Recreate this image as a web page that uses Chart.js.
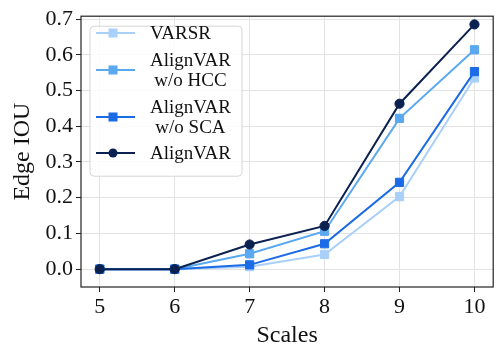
<!DOCTYPE html>
<html>
<head>
<meta charset="utf-8">
<script src="https://cdn.jsdelivr.net/npm/chart.js@4.4.1/dist/chart.umd.min.js"></script>
<style>
  html, body { margin: 0; padding: 0; background: #fff; }
  #wrap { width: 500px; height: 350px; position: relative; }
</style>
</head>
<body>
<div id="wrap"><canvas id="myChart" width="500" height="350"></canvas></div>
<script>
// DATA
const scales = [5, 6, 7, 8, 9, 10];
const yTicks = [0.0, 0.1, 0.2, 0.3, 0.4, 0.5, 0.6, 0.7];

const varsr = [0, 0, 0.007, 0.041, 0.203, 0.535];
const woHCC = [0, 0, 0.043, 0.106, 0.422, 0.614];
const woSCA = [0, 0, 0.012, 0.071, 0.243, 0.553];
const alignVAR = [0, 0, 0.069, 0.121, 0.463, 0.685];

const labels = [["VARSR"], ["AlignVAR", "w/o HCC"], ["AlignVAR", "w/o SCA"], ["AlignVAR"]];
const colors = ["#a9d0f9", "#5aa8f0", "#1c6be6", "#0b2150"];
const markers = ["rect", "rect", "rect", "circle"];

const FONT = "'Liberation Serif', 'Times New Roman', serif";

function toPoints(arr) {
  return arr.map(function (v, i) {
    return { x: scales[i], y: v };
  });
}

// frame + legend drawn inside plot
const framePlugin = {
  id: "frame",
  afterDraw: function (chart) {
    const ctx = chart.ctx;
    const a = chart.chartArea;
    ctx.save();
    ctx.strokeStyle = "#222";
    ctx.lineWidth = 1.2;
    ctx.strokeRect(a.left, a.top, a.right - a.left, a.bottom - a.top);

    // legend box
    const bx = a.left + 9, by = a.top + 10, bw = 152, bh = 150;
    ctx.fillStyle = "rgba(255,255,255,0.85)";
    ctx.strokeStyle = "#d6d6d6";
    ctx.lineWidth = 1;
    ctx.beginPath();
    ctx.roundRect(bx, by, bw, bh, 4);
    ctx.fill();
    ctx.stroke();

    const rowY = [33, 70, 117, 153];
    ctx.font = "19px " + FONT;
    ctx.textBaseline = "middle";
    ctx.textAlign = "center";
    for (let i = 0; i < labels.length; i++) {
      const cy = rowY[i];
      ctx.strokeStyle = colors[i];
      ctx.lineWidth = 2;
      ctx.beginPath();
      ctx.moveTo(96, cy);
      ctx.lineTo(135, cy);
      ctx.stroke();
      ctx.fillStyle = colors[i];
      if (markers[i] === "rect") {
        ctx.fillRect(113 - 4.5, cy - 4.5, 9, 9);
      } else {
        ctx.beginPath();
        ctx.arc(113, cy, 4.5, 0, Math.PI * 2);
        ctx.fill();
      }
      ctx.fillStyle = "#111";
      const lines = labels[i];
      const maxW = Math.max.apply(null, lines.map(function (t) {
        return ctx.measureText(t).width;
      }));
      const lh = 19.5;
      for (let j = 0; j < lines.length; j++) {
        const ty = cy - ((lines.length - 1) * lh) / 2 + j * lh;
        ctx.fillText(lines[j], 150 + maxW / 2, ty + 1);
      }
    }
    ctx.restore();
  },
};

const myChart = document.getElementById("myChart").getContext("2d");

const lineChart = new Chart(myChart, {
  type: "line",
  data: {
    datasets: [varsr, woHCC, woSCA, alignVAR].map(function (d, i) {
      return {
        label: labels[i].join(" "),
        data: toPoints(d),
        borderColor: colors[i],
        backgroundColor: colors[i],
        borderWidth: 2,
        pointStyle: markers[i],
        pointRadius: markers[i] === "rect" ? 5.8 : 4.6,
        pointBorderWidth: 1,
        pointBorderColor: colors[i],
        order: 4 - i,
      };
    }),
  },
  options: {
    responsive: false,
    animation: false,
    layout: {
      padding: { top: 9, right: 2, left: 0, bottom: 0 },
    },
    plugins: {
      legend: { display: false },
      tooltip: { enabled: false },
    },
    scales: {
      x: {
        type: "linear",
        min: 4.75,
        max: 10.25,
        afterBuildTicks: function (scale) {
          scale.ticks = scales.map(function (v) {
            return { value: v };
          });
        },
        afterFit: function (scale) {
          scale.height = 63;
        },
        ticks: {
          color: "#111",
          font: { family: FONT, size: 22 },
          padding: 2,
          maxRotation: 0,
          callback: function (v) {
            return String(v);
          },
        },
        grid: {
          color: "#e3e3e3",
          lineWidth: 1,
          tickColor: "#222",
          tickLength: 5,
        },
        border: { display: false },
        title: {
          display: true,
          text: "Scales",
          color: "#111",
          font: { family: FONT, size: 24 },
          padding: { top: 0, bottom: 0 },
        },
      },
      y: {
        min: -0.05,
        max: 0.708,
        afterBuildTicks: function (scale) {
          scale.ticks = yTicks.map(function (v) {
            return { value: v };
          });
        },
        afterFit: function (scale) {
          scale.width = 81;
        },
        ticks: {
          color: "#111",
          font: { family: FONT, size: 22 },
          padding: 3,
          callback: function (v) {
            return Number(v).toFixed(1);
          },
        },
        grid: {
          color: "#e3e3e3",
          lineWidth: 1,
          tickColor: "#222",
          tickLength: 5,
        },
        border: { display: false },
        title: {
          display: true,
          text: "Edge IOU",
          color: "#111",
          font: { family: FONT, size: 24 },
          padding: { top: 8, bottom: 0 },
        },
      },
    },
  },
  plugins: [framePlugin],
});
</script>
</body>
</html>
